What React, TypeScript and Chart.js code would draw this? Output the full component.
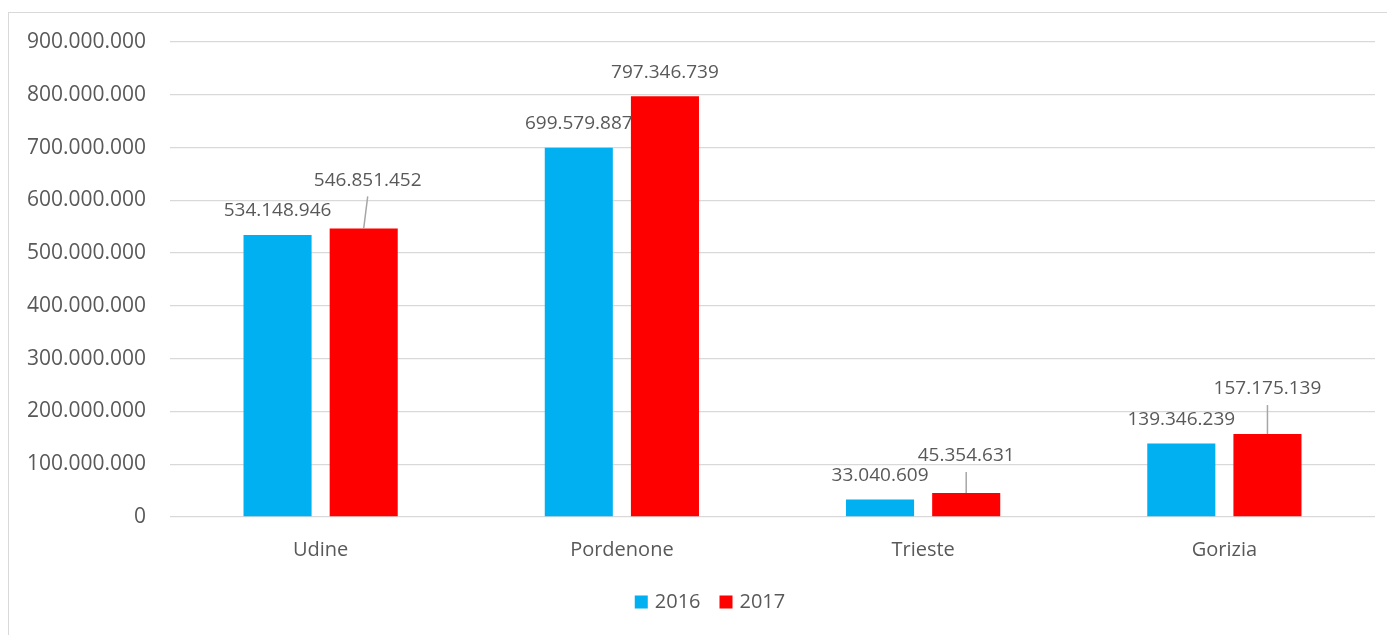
import React, { useEffect, useRef } from "react";
import { Chart, registerables } from "chart.js";

Chart.register(...registerables);

const categories = ["Udine", "Pordenone", "Trieste", "Gorizia"];
const values2016 = [534148946, 699579887, 33040609, 139346239];
const values2017 = [546851452, 797346739, 45354631, 157175139];
const seriesNames = ["2016", "2017"];
const seriesColors = ["#00B0F0", "#FF0000"];
const yTicks = [0, 100000000, 200000000, 300000000, 400000000, 500000000, 600000000, 700000000, 800000000, 900000000];

const TEXT = "#595959";
const FONT = "'Open Sans', 'Noto Sans', sans-serif";

const fmt = (v: number) => Math.round(v).toString().replace(/\B(?=(\d{3})+(?!\d))/g, ".");

// label placement: [datasetIndex][barIndex] -> {dx, dy, leader}
const labelPlacement = [
  [
    { dx: 0, dy: -24, leader: false },
    { dx: 0, dy: -24, leader: false },
    { dx: 0, dy: -24, leader: false },
    { dx: 0, dy: -24, leader: false },
  ],
  [
    { dx: 4, dy: -48, leader: true },
    { dx: 0, dy: -24, leader: false },
    { dx: 0, dy: -37, leader: true },
    { dx: 0, dy: -45, leader: true },
  ],
];

const labelPlugin = {
  id: "barLabels",
  afterDatasetsDraw(chart: any) {
    const ctx = chart.ctx;
    ctx.save();
    ctx.font = `19px ${FONT}`;
    ctx.fillStyle = TEXT;
    ctx.textAlign = "center";
    ctx.textBaseline = "middle";
    chart.data.datasets.forEach((ds: any, di: number) => {
      const meta = chart.getDatasetMeta(di);
      meta.data.forEach((bar: any, i: number) => {
        const p = labelPlacement[di][i];
        const lx = bar.x + p.dx;
        const ly = bar.y + p.dy;
        if (p.leader) {
          ctx.save();
          ctx.strokeStyle = "#a6a6a6";
          ctx.lineWidth = 1.5;
          ctx.beginPath();
          ctx.moveTo(lx, ly + 16);
          ctx.lineTo(bar.x, bar.y);
          ctx.stroke();
          ctx.restore();
        }
        ctx.fillText(fmt(ds.data[i]), lx, ly);
      });
    });
    ctx.restore();
  },
};

// custom legend at the bottom
const legendPlugin = {
  id: "customLegend",
  afterDraw(chart: any) {
    const ctx = chart.ctx;
    ctx.save();
    ctx.font = `20px ${FONT}`;
    ctx.textBaseline = "middle";
    ctx.textAlign = "left";
    const box = 13;
    const gapBoxText = 7;
    const gapItems = 19;
    const items = chart.data.datasets.map((ds: any) => ({
      label: ds.label,
      color: ds.backgroundColor,
      w: ctx.measureText(ds.label).width,
    }));
    const total = items.reduce((s: number, it: any) => s + box + gapBoxText + it.w, 0) + gapItems * (items.length - 1);
    let x = chart.width / 2 + 8 - total / 2;
    const cy = chart.height - 33;
    items.forEach((it: any) => {
      ctx.fillStyle = it.color;
      ctx.fillRect(x, cy - box / 2, box, box);
      x += box + gapBoxText;
      ctx.fillStyle = TEXT;
      ctx.fillText(it.label, x, cy);
      x += it.w + gapItems;
    });
    ctx.restore();
  },
};

export default function App() {
  const ref = useRef<HTMLCanvasElement | null>(null);

  useEffect(() => {
    if (!ref.current) return;
    const chart = new Chart(ref.current, {
      type: "bar",
      data: {
        labels: categories,
        datasets: [
          {
            label: seriesNames[0],
            data: values2016,
            backgroundColor: seriesColors[0],
            categoryPercentage: 0.572,
            barPercentage: 0.79,
          },
          {
            label: seriesNames[1],
            data: values2017,
            backgroundColor: seriesColors[1],
            categoryPercentage: 0.572,
            barPercentage: 0.79,
          },
        ],
      },
      options: {
        animation: false,
        responsive: true,
        maintainAspectRatio: false,
        layout: { padding: { top: 29, right: 20, bottom: 64, left: 0 } },
        plugins: {
          tooltip: { enabled: false },
          legend: { display: false },
        },
        scales: {
          x: {
            grid: { display: false, drawTicks: false },
            border: { display: false },
            ticks: { color: TEXT, font: { family: FONT, size: 20 }, padding: 21 },
            afterFit: (s: any) => {
              s.height = 54;
              s.paddingLeft = 0;
              s.paddingRight = 0;
            },
          },
          y: {
            min: 0,
            max: 900000000,
            afterBuildTicks: (s: any) => {
              s.ticks = yTicks.map((v) => ({ value: v }));
            },
            grid: { color: "#d9d9d9", lineWidth: 1.3, drawTicks: false },
            border: { display: false },
            ticks: {
              color: TEXT,
              font: { family: FONT, size: 21 },
              padding: 24,
              callback: (v: any) => fmt(Number(v)),
            },
            afterFit: (s: any) => {
              s.width = 161;
              s.paddingTop = 0;
              s.paddingBottom = 0;
            },
          },
        },
      },
      plugins: [labelPlugin, legendPlugin],
    });
    return () => chart.destroy();
  }, []);

  return (
    <div style={{ paddingTop: 4 }}>
      <div
        style={{
          width: 1386,
          height: 622,
          borderTop: "1px solid #d9d9d9",
          borderLeft: "1px solid #d9d9d9",
          position: "relative",
        }}
      >
        <canvas ref={ref} />
      </div>
    </div>
  );
}
